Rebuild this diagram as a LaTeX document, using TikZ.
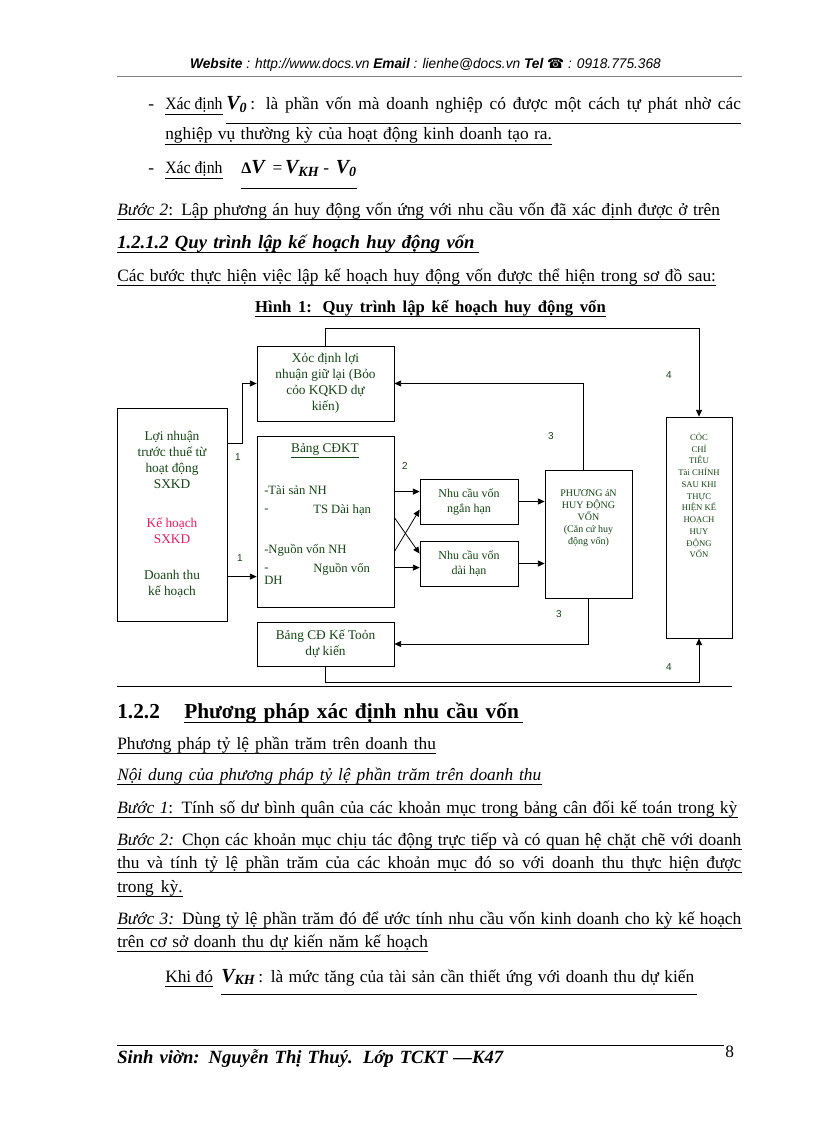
\documentclass[tikz,border=0pt]{standalone}
\usepackage{graphicx}
\usepackage{fontspec}
\setmainfont{Liberation Serif}
\newfontfamily\hdrsym{DejaVu Sans}
\newfontfamily\arialf{Liberation Sans}
\usetikzlibrary{arrows.meta}
\definecolor{dg}{RGB}{20,70,20}
\definecolor{pk}{RGB}{232,28,92}
\newsavebox\fitbox
\newcommand\jl[2]{\sbox\fitbox{#2}\ifdim\wd\fitbox>#1\relax\resizebox{#1}{\height}{\usebox\fitbox}\else\makebox[#1][s]{#2}\fi}
\begin{document}
\begin{tikzpicture}[x=0.75pt,y=-0.75pt,
  pt/.style={anchor=base west, inner sep=0pt, font=\fontsize{13}{15}\selectfont},
  ulin/.style={line width=0.5pt},
  dbox/.style={draw, line width=0.6pt, inner sep=0pt, text=dg, align=center},
  conn/.style={line width=0.6pt, -{Triangle[length=5pt,width=4.5pt]}},
  num/.style={inner sep=0pt, text=dg, font=\arialf\fontsize{7.5}{9}\selectfont},
  btx/.style={anchor=base west, inner sep=0pt, text=dg, font=\fontsize{9.5}{11}\selectfont},
  fbi/.style={anchor=base west, inner sep=0pt, font=\fontsize{15}{15}\selectfont\bfseries\itshape}]
\useasboundingbox (0,0) rectangle (816,1123);
\fill[white] (0,0) rectangle (816,1123);

% header
\node[anchor=base, inner sep=0pt, font=\arialf\fontsize{10.5}{12}\selectfont\itshape] (hdr) at (425.5,69)
  {\jl{353pt}{\textbf{Website} : http://www.docs.vn \textbf{Email} : lienhe@docs.vn \textbf{Tel} {\hdrsym\upshape ☎} : 0918.775.368}};
\draw[gray, line width=0.6pt] (117,76) -- (742,76);

% line 1
\node[pt] (h1) at (148,110) {-};
\node[pt] (a1) at (165,110) {\jl{43pt}{Xác định}};
\node[fbi] (f1) at (226,110) {V\textsubscript{0}};
\node[pt] (a2) at (250,110) {\jl{368pt}{: là phần vốn mà doanh nghiệp có được một cách tự phát nhờ các}};
\draw[ulin] ([yshift=-3pt]a1.base west) -- ([yshift=-3pt]a1.base east);
\draw[ulin] ([yshift=-10pt]f1.base west) -- ([yshift=-10pt]a2.base east);
% line 2
\node[pt] (a3) at (165,140) {\jl{290pt}{nghiệp vụ thường kỳ của hoạt động kinh doanh tạo ra.}};
\draw[ulin] ([yshift=-3pt]a3.base west) -- ([yshift=-3pt]a3.base east);
% line 3
\node[pt] (h2) at (148,174) {-};
\node[pt] (a4) at (165,174) {\jl{43pt}{Xác định}};
\draw[ulin] ([yshift=-3pt]a4.base west) -- ([yshift=-3pt]a4.base east);
\node[fbi] (f2) at (241,174) {{\upshape\fontsize{12}{12}\selectfont Δ}V\hspace{6pt}{\normalfont\fontsize{13}{13}\selectfont =}\hspace{2pt}V\textsubscript{KH}\hspace{3pt}{\normalfont\fontsize{13}{13}\selectfont -}\hspace{5pt}V\textsubscript{0}};
\draw[ulin] ([yshift=-10.5pt]f2.base west) -- ([yshift=-10.5pt]f2.base east);

\node[pt] (s2) at (117,215) {\jl{452pt}{\textit{Bước 2}: Lập phương án huy động vốn ứng với nhu cầu vốn đã xác định được ở trên}};
\draw[ulin] ([yshift=-3pt]s2.base west) -- ([yshift=-3pt]s2.base east);

\node[pt, font=\fontsize{14}{16}\selectfont\bfseries\itshape] (hd1) at (117,248) {\jl{268pt}{1.2.1.2 Quy trình lập kế hoạch huy động vốn}};
\draw[line width=0.8pt] ([yshift=-3.5pt]hd1.base west) -- ([yshift=-3.5pt,xshift=3pt]hd1.base east);

\node[pt] (cb) at (117,281) {\jl{449pt}{Các bước thực hiện việc lập kế hoạch huy động vốn được thể hiện trong sơ đồ sau:}};
\draw[ulin] ([yshift=-3pt]cb.base west) -- ([yshift=-3pt]cb.base east);

\node[anchor=base, inner sep=0pt, font=\fontsize{12.5}{14}\selectfont\bfseries] (hh) at (430.5,312) {\jl{263pt}{Hình 1: Quy trình lập kế hoạch huy động vốn}};
\draw[ulin] ([yshift=-3pt]hh.base west) -- ([yshift=-3pt]hh.base east);

% ---------- diagram ----------
\node[dbox, minimum width=82.5pt, minimum height=159.75pt, font=\fontsize{10}{12}\selectfont] (L) at (172,514.5)
  {Lợi nhuận\\trước thuế từ\\hoạt động\\SXKD\\[17pt]\textcolor{pk}{Kế hoạch}\\\textcolor{pk}{SXKD}\\[15pt]Doanh thu\\kế hoạch};
\node[dbox, minimum width=102.75pt, minimum height=56.25pt, font=\fontsize{10}{12}\selectfont] (T) at (325.5,383.5)
  {Xỏc định lợi\\nhuận giữ lại (Bỏo\\cỏo KQKD dự\\kiến)};
\node[dbox, minimum width=102.75pt, minimum height=128.25pt] (B) at (325.5,521.5) {};
\node[inner sep=0pt, text=dg, font=\fontsize{10}{12}\selectfont] (bt) at (325,451) {\underline{Bảng CĐKT}};
\node[btx] (b1) at (264,494) {-Tài sản NH};
\node[btx] (b2) at (264,512) {-};
\node[btx] (b3) at (313,513) {TS Dài hạn};
\node[btx] (b4) at (264,553) {-Nguồn vốn NH};
\node[btx] (b5) at (264,571) {-};
\node[btx] (b6) at (313,572) {Nguồn vốn};
\node[btx] (b7) at (264,584) {DH};
\node[dbox, minimum width=102.75pt, minimum height=33pt, font=\fontsize{10}{12}\selectfont] (K) at (325.5,644)
  {Bảng CĐ Kế Toỏn\\dự kiến};
\node[dbox, minimum width=73.5pt, minimum height=33.75pt, font=\fontsize{9}{11.25}\selectfont] (N) at (469,501.5)
  {Nhu cầu vốn\\ngắn hạn};
\node[dbox, minimum width=73.5pt, minimum height=33.75pt, font=\fontsize{9}{11.25}\selectfont] (D) at (469,563.5)
  {Nhu cầu vốn\\dài hạn};
\node[dbox, minimum width=65.25pt, minimum height=96pt] (P) at (588.5,534) {};
\node[text=dg, align=center, inner sep=0pt, font=\fontsize{7.5}{9}\selectfont] (ptx) at (588.5,518.5)
  {PHƯƠNG áN\\HUY ĐỘNG\\VỐN\\(Căn cứ huy\\động vốn)};
\node[dbox, minimum width=49.5pt, minimum height=165.75pt] (R) at (699,527.5) {};
\node[text=dg, align=center, inner sep=0pt, font=\fontsize{6.5}{8.8}\selectfont] (rtx) at (699,495.5)
  {CỎC\\CHỈ\\TIÊU\\Tài CHÍNH\\SAU KHI\\THỰC\\HIỆN KẾ\\HOẠCH\\HUY\\ĐỘNG\\VỐN};

% connectors
\draw[conn] ([yshift=-27pt]L.north east) -- ++(15,0) |- (T.west);
\coordinate (lb) at ([yshift=-105.75pt]B.north west);
\draw[conn] (lb -| L.east) -- (lb);
\draw[conn] (T.north) -- ++(0,-17) -| (R.north);
\draw[conn] ([xshift=-4pt]P.north) |- (T.east);
\draw[conn] (P.south) |- (K.east);
\draw[conn] (K.south) -- ++(0,16) -| (R.south);
\coordinate (n1) at ([yshift=-9.75pt]N.north west);
\draw[conn] (n1 -| B.east) -- (n1);
\coordinate (d1) at ([yshift=-20.25pt]D.north west);
\draw[conn] (d1 -| B.east) -- (d1);
\coordinate (x1) at ([yshift=-61.5pt]B.north east);
\coordinate (x2) at ([yshift=-87pt]B.north east);
\coordinate (n2) at ([yshift=-23.25pt]N.north west);
\coordinate (d2) at ([yshift=-9.75pt]D.north west);
\draw[conn] (x1) -- (d2);
\draw[conn] (x2) -- (n2);
\draw[conn] (N.east) -- (N.east -| P.west);
\draw[conn] (D.east) -- (D.east -| P.west);
\draw[line width=0.6pt] (117,686) -- (732,686);

\node[num] (l1) at (238,457) {1};
\node[num] (l2) at (240,558) {1};
\node[num] (l3) at (405,466) {2};
\node[num] (l4) at (551,436) {3};
\node[num] (l5) at (559,614) {3};
\node[num] (l6) at (669,375) {4};
\node[num] (l7) at (669,667) {4};

% ---------- lower text ----------
\node[pt, font=\fontsize{16}{18}\selectfont\bfseries] (n122) at (117,718) {1.2.2};
\node[pt, font=\fontsize{16}{18}\selectfont\bfseries] (t122) at (184,718) {\jl{251pt}{Phương pháp xác định nhu cầu vốn}};
\draw[line width=0.8pt] ([yshift=-3.5pt]t122.base west) -- ([yshift=-3.5pt,xshift=3pt]t122.base east);

\node[pt] (p1) at (117,749) {\jl{239pt}{Phương pháp tỷ lệ phần trăm trên doanh thu}};
\draw[ulin] ([yshift=-3pt]p1.base west) -- ([yshift=-3pt]p1.base east);
\node[pt, font=\fontsize{13}{15}\selectfont\itshape] (p2) at (117,780) {\jl{318pt}{Nội dung của phương pháp tỷ lệ phần trăm trên doanh thu}};
\draw[ulin] ([yshift=-3pt]p2.base west) -- ([yshift=-3pt]p2.base east);
\node[pt] (p3) at (117,813) {\jl{465pt}{\textit{Bước 1}: Tính số dư bình quân của các khoản mục trong bảng cân đối kế toán trong kỳ}};
\draw[ulin] ([yshift=-3pt]p3.base west) -- ([yshift=-3pt]p3.base east);
\node[pt] (p4) at (117,845) {\jl{468pt}{\textit{Bước 2:} Chọn các khoản mục chịu tác động trực tiếp và có quan hệ chặt chẽ với doanh}};
\draw[ulin] ([yshift=-3pt]p4.base west) -- ([yshift=-3pt]p4.base east);
\node[pt] (p5) at (117,868) {\jl{468pt}{thu và tính tỷ lệ phần trăm của các khoản mục đó so với doanh thu thực hiện được}};
\draw[ulin] ([yshift=-3pt]p5.base west) -- ([yshift=-3pt]p5.base east);
\node[pt] (p6) at (117,892) {\jl{49pt}{trong kỳ.}};
\draw[ulin] ([yshift=-3pt]p6.base west) -- ([yshift=-3pt]p6.base east);
\node[pt] (p7) at (117,924) {\jl{468pt}{\textit{Bước 3:} Dùng tỷ lệ phần trăm đó để ước tính nhu cầu vốn kinh doanh cho kỳ kế hoạch}};
\draw[ulin] ([yshift=-3pt]p7.base west) -- ([yshift=-3pt]p7.base east);
\node[pt] (p8) at (117,947) {\jl{233pt}{trên cơ sở doanh thu dự kiến năm kế hoạch}};
\draw[ulin] ([yshift=-3pt]p8.base west) -- ([yshift=-3pt]p8.base east);

\node[pt] (k1) at (165,982) {Khi đó};
\draw[ulin] ([yshift=-3pt]k1.base west) -- ([yshift=-3pt]k1.base east);
\node[fbi] (f3) at (221,982) {V\textsubscript{KH}};
\node[pt] (k2) at (258,982) {\jl{327pt}{: là mức tăng của tài sản cần thiết ứng với doanh thu dự kiến}};
\draw[ulin] ([yshift=-9pt]f3.base west) -- ([yshift=-9pt,xshift=1.5pt]k2.base east);

% footer
\draw[line width=0.6pt] (117,1045) -- (724,1045);
\node[pt, font=\fontsize{14}{16}\selectfont\bfseries\itshape] (ft) at (117,1063) {\jl{289.5pt}{Sinh viờn: Nguyễn Thị Thuý. Lớp TCKT —K47}};
\node[pt, font=\fontsize{13}{15}\selectfont] (pg) at (725,1057) {8};
\end{tikzpicture}
\end{document}
